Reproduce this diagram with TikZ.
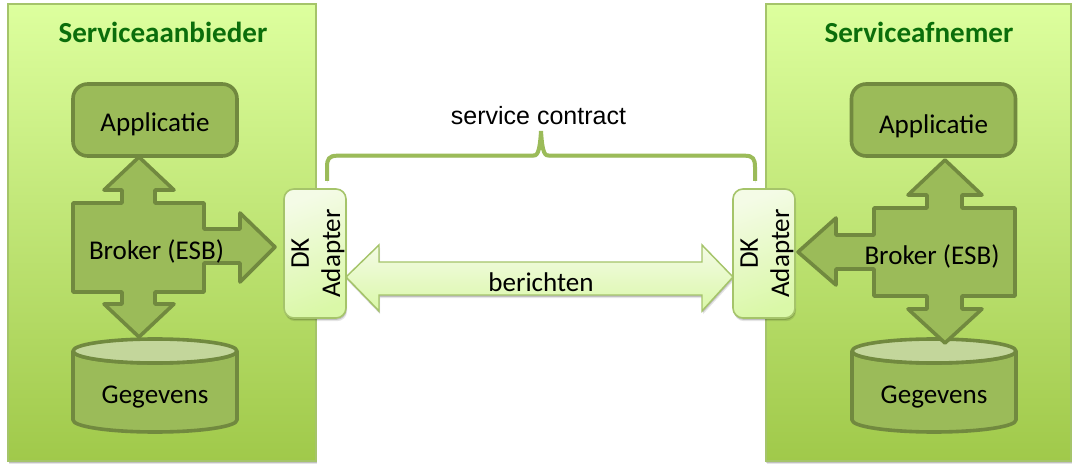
\documentclass[tikz,border=0pt]{standalone}
\usepackage{fontspec}
\setmainfont{Carlito}
\newfontfamily\arialf{Liberation Sans}
\usetikzlibrary{shadows}
\definecolor{pTop}{HTML}{DDFF9E}
\definecolor{pBot}{HTML}{A0C94A}
\definecolor{pLine}{HTML}{A5C46A}
\definecolor{cFill}{HTML}{9BBB59}
\definecolor{cLine}{HTML}{71893F}
\definecolor{cTop}{HTML}{C3D69B}
\definecolor{tGreen}{HTML}{0B6E0B}
\definecolor{aLight}{HTML}{F4FBE6}
\definecolor{aDark}{HTML}{DAF8A8}
\tikzset{
  softshadow/.style={general shadow={shadow xshift=0.8pt,shadow yshift=-2.4pt,fill=black,opacity=.10},
                     general shadow={shadow xshift=0.4pt,shadow yshift=-1.4pt,fill=black,opacity=.16}},
  panel/.style={draw=pLine,line width=1.2pt,top color=pTop,bottom color=pBot,inner sep=0pt,outer sep=0pt,softshadow},
  comp/.style={draw=cLine,fill=cFill,line width=2.7pt,line join=round},
  appbox/.style={comp,rounded corners=11pt,inner sep=0pt,outer sep=0pt,minimum width=123pt,minimum height=54pt,font=\fontsize{20.3}{24}\selectfont},
  title/.style={font=\fontsize{21.8}{26}\selectfont\bfseries,text=tGreen,inner sep=0pt},
  lbl/.style={font=\fontsize{20.3}{24}\selectfont,text=black,inner sep=0pt},
  adapter/.style={draw=pLine,line width=1.2pt,rounded corners=7.5pt,inner sep=0pt,outer sep=0pt,minimum width=46.5pt,minimum height=96.75pt,softshadow},
  adaptertext/.style={font=\fontsize{20.3}{23.5}\selectfont,rotate=90,align=center,inner sep=0pt},
  contractline/.style={draw=cFill,line width=3pt,line cap=butt,general shadow={shadow xshift=0.3pt,shadow yshift=-1.4pt,draw=black,opacity=.10}},
  flow/.style={draw=pLine,line width=1.1pt,line join=miter,top color=aLight,bottom color=aDark,softshadow}
}
\begin{document}
\begin{tikzpicture}[x=0.75pt,y=-0.75pt]
\useasboundingbox (0,0) rectangle (1079,474);
% panels
\node[panel,minimum width=231pt,minimum height=343pt] (provider) at (162,232.5) {};
\node[panel,minimum width=229pt,minimum height=343pt] (consumer) at (918.5,232.5) {};
\node[title] (t1) at (163,32) {Serviceaanbieder};
\node[title] (t2) at (919,32) {Serviceafnemer};
% left side
\node[appbox] (app1) at (155,120) {};
\node[lbl] (app1t) at (155,124) {Applicatie};
\draw[comp] (139,157) -- (174,190) -- (155,190) -- (155,203) -- (204,203) -- (204,229) -- (240,229) -- (240,213) -- (275,247) -- (240,282) -- (240,263) -- (204,263) -- (204,292) -- (155,292) -- (155,304) -- (174,304) -- (139,337) -- (104,304) -- (122,304) -- (122,292) -- (73,292) -- (73,203) -- (122,203) -- (122,190) -- (104,190) -- cycle;
\node[lbl] (broker1) at (156.5,251.5) {Broker (ESB)};
\draw[comp] (73,351) arc[start angle=180,end angle=360,x radius=61.5pt,y radius=9pt] -- (237,420) arc[start angle=0,end angle=-180,x radius=61.5pt,y radius=9pt] -- cycle;
\draw[comp,fill=cTop] (155,351) ellipse[x radius=61.5pt,y radius=9pt];
\node[lbl] (data1) at (155,397.5) {Gegevens};
% right side
\node[appbox] (app2) at (933.5,120) {};
\node[lbl] (app2t) at (933.5,126) {Applicatie};
\draw[comp] (852,351) arc[start angle=180,end angle=360,x radius=61.5pt,y radius=9pt] -- (1016,420) arc[start angle=0,end angle=-180,x radius=61.5pt,y radius=9pt] -- cycle;
\draw[comp,fill=cTop] (934,351) ellipse[x radius=61.5pt,y radius=9pt];
\draw[comp] (945,160) -- (982,195) -- (962,195) -- (962,208) -- (1015,208) -- (1015,296) -- (962,296) -- (962,309) -- (982,309) -- (945,343) -- (908,309) -- (927,309) -- (927,296) -- (874,296) -- (874,269) -- (836,269) -- (836,285) -- (798,252) -- (836,218) -- (836,235) -- (874,235) -- (874,208) -- (927,208) -- (927,195) -- (908,195) -- cycle;
\node[lbl] (broker2) at (932,256.5) {Broker (ESB)};
\node[lbl] (data2) at (934,397.5) {Gegevens};
% flow arrow
\path[flow] (346,277) -- (379,245) -- (379,262) -- (702,262) -- (702,245) -- (733,277) -- (702,311) -- (702,295) -- (379,295) -- (379,311) -- cycle;
\node[lbl] (berichten) at (541,282) {berichten};
% adapters
\node[adapter,left color=aLight,right color=aDark,shading angle=20] (ad1) at (315,253.5) {};
\node[adaptertext] (adt1) at ([xshift=2.3pt]ad1.center) {DK\\Adapter};
\node[adapter,left color=aLight,right color=aDark,shading angle=20] (ad2) at (764,253.5) {};
\node[adaptertext] (adt2) at ([xshift=2.3pt]ad2.center) {DK\\Adapter};
% contract brace
\coordinate (b0) at (327,181);
\coordinate (b5) at (755,181);
\coordinate (bp) at (541,131);
\draw[contractline] (b0) -- (327,167) .. controls (327,159) and (329,155.7) .. (337,155.7) -- (532,155.7) .. controls (537,155.7) and (539.5,155) .. (bp) .. controls (542.5,155) and (545,155.7) .. (550,155.7) -- (745,155.7) .. controls (753,155.7) and (755,159) .. (755,167) -- (b5);
\node[font={\arialf\fontsize{18.75}{22}\selectfont},inner sep=0pt] (contract) at (538.5,116) {service contract};
\end{tikzpicture}
\end{document}
